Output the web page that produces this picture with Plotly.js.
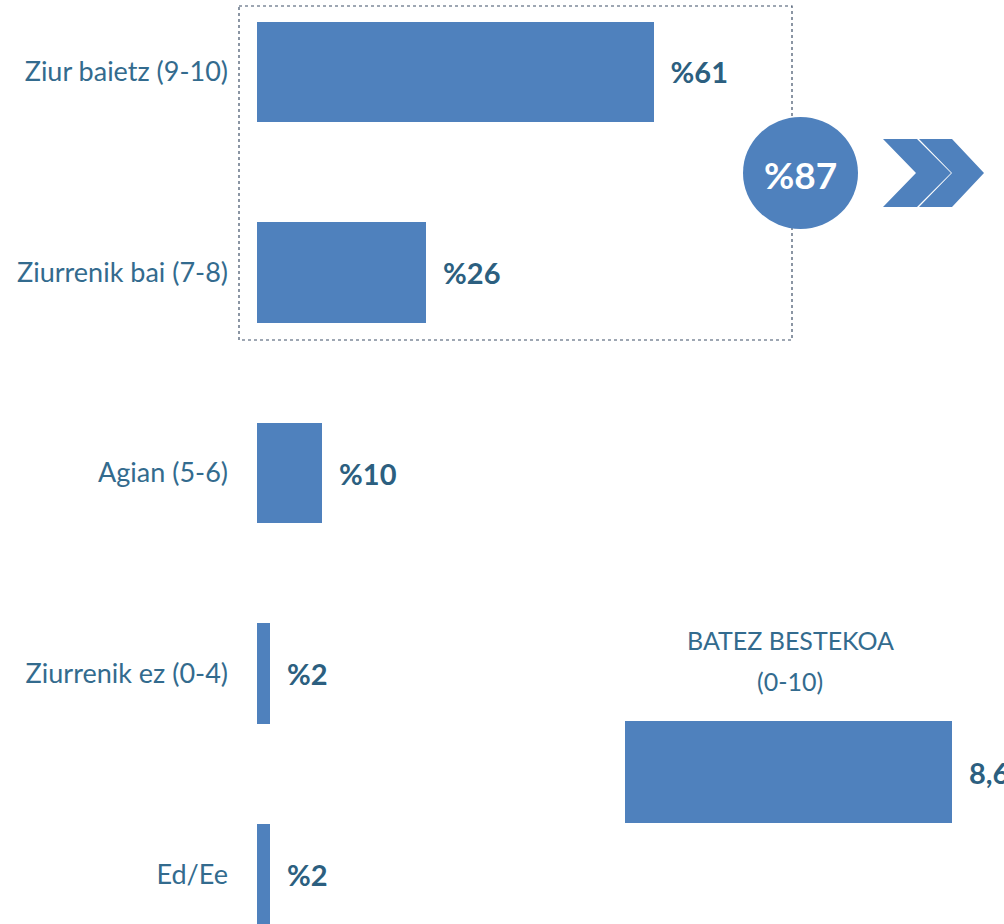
<!DOCTYPE html>
<html><head><meta charset="utf-8">
<script src="https://cdn.plot.ly/plotly-3.0.1.min.js"></script>
<style>html,body{margin:0;padding:0;background:#fff}#chart{width:1004px;height:924px}</style>
</head><body><div id="chart"></div>
<script>
const categories = ["Ziur baietz (9-10)", "Ziurrenik bai (7-8)", "Agian (5-6)", "Ziurrenik ez (0-4)", "Ed/Ee"];
const values = [61, 26, 10, 2, 2];
const valueLabels = ["%61", "%26", "%10", "%2", "%2"];
const totalLabel = "%87";
const avgCategory = ["BATEZ BESTEKOA"];
const avgValue = [8.6];
const avgLabel = ["8,6"];
const avgTitleLines = ["BATEZ BESTEKOA", "(0-10)"];

const W = 1004, H = 924;
const px = x => x / W, py = y => 1 - y / H;
const FONT = "Lato, 'Open Sans', sans-serif";
const BAR = "#4F81BD", TXT = "#336B8E", VAL = "#2C5F80";
const pad = "\u00a0\u00a0";

const traces = [
  {type: "bar", orientation: "h", x: values, y: categories,
   marker: {color: BAR}, width: 0.5,
   text: valueLabels.map(t => pad + t), textposition: "outside", cliponaxis: false,
   textfont: {family: FONT, size: 29, color: VAL, weight: "bold"},
   hoverinfo: "none", xaxis: "x", yaxis: "y"},
  {type: "bar", orientation: "h", x: avgValue, y: avgCategory,
   marker: {color: BAR}, width: 0.708,
   text: avgLabel.map(t => pad + t), textposition: "outside", cliponaxis: false,
   textfont: {family: FONT, size: 29, color: VAL, weight: "bold"},
   hoverinfo: "none", xaxis: "x2", yaxis: "y2"}
];

function path(pts) { return "M" + pts.map(p => px(p[0]) + "," + py(p[1])).join(" L") + " Z"; }

const layout = {
  width: W, height: H, margin: {l: 0, r: 0, t: 0, b: 0},
  paper_bgcolor: "#fff", plot_bgcolor: "rgba(0,0,0,0)", showlegend: false,
  font: {family: FONT, color: TXT},
  bargap: 0,
  uniformtext: {mode: false},
  xaxis: {domain: [px(257), px(907)], range: [0, 100], visible: false, fixedrange: true},
  yaxis: {domain: [0, 1], type: "category", categoryarray: categories, range: [4.249, -0.359],
          showgrid: false, zeroline: false, showline: false, ticks: "",
          ticklabelstandoff: 28, tickfont: {family: FONT, size: 27, color: TXT}, fixedrange: true},
  xaxis2: {domain: [px(625), 1], range: [0, 9.97], visible: false, anchor: "y2", fixedrange: true},
  yaxis2: {domain: [py(844), py(700)], range: [-0.5, 0.5], visible: false, anchor: "x2", fixedrange: true},
  shapes: [
    {type: "rect", xref: "paper", yref: "paper", x0: px(239), x1: px(792), y0: py(6), y1: py(340),
     line: {color: "#3F5068", width: 1.2, dash: "dot"}, fillcolor: "rgba(0,0,0,0)"},
    {type: "circle", xref: "paper", yref: "paper", x0: px(743), x1: px(858), y0: py(229), y1: py(117),
     line: {width: 0}, fillcolor: BAR},
    {type: "path", xref: "paper", yref: "paper", line: {width: 0}, fillcolor: BAR,
     path: path([[883,139],[917,139],[951,173],[917,207],[883,207],[916,173]])},
    {type: "path", xref: "paper", yref: "paper", line: {width: 0}, fillcolor: BAR,
     path: path([[919,139],[952,139],[984,173],[952,207],[919,207],[952,173]])}
  ],
  annotations: [
    {xref: "paper", yref: "paper", x: px(800), y: py(174), text: totalLabel, showarrow: false,
     xanchor: "center", yanchor: "middle", font: {family: FONT, size: 37, color: "#fff", weight: "bold"}},
    {xref: "paper", yref: "paper", x: px(790), y: py(640), text: avgTitleLines[0], showarrow: false,
     xanchor: "center", yanchor: "middle", font: {family: FONT, size: 25, color: TXT}},
    {xref: "paper", yref: "paper", x: px(790), y: py(681), text: avgTitleLines[1], showarrow: false,
     xanchor: "center", yanchor: "middle", font: {family: FONT, size: 25, color: TXT}}
  ]
};
Plotly.newPlot("chart", traces, layout, {staticPlot: true, displayModeBar: false});
</script></body></html>
